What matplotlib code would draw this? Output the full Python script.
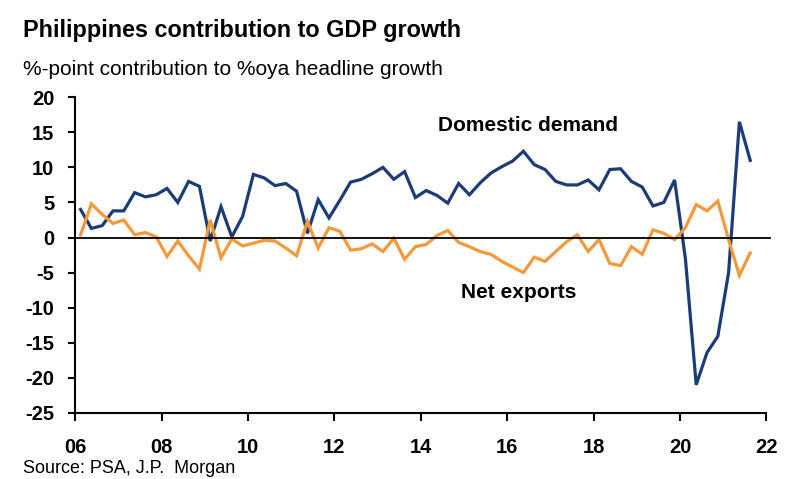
import matplotlib
matplotlib.use("Agg")
import matplotlib.pyplot as plt
from matplotlib import font_manager
import numpy as np
import pandas as pd

plt.rcParams['font.family'] = ['Liberation Sans', 'DejaVu Sans']
plt.rcParams['axes.unicode_minus'] = False

# Quarterly contributions, 2006Q1 - 2021Q3
quarters = pd.period_range('2006Q1', '2021Q3', freq='Q')

domestic_demand = [4.0, 1.3, 1.7, 3.8, 3.8, 6.4, 5.8, 6.1, 7.0, 5.0, 8.0, 7.3,
                   -0.5, 4.4, 0.1, 3.0, 9.0, 8.5, 7.4, 7.7, 6.6, 0.6, 5.4, 2.8,
                   5.3, 7.9, 8.3, 9.1, 10.0, 8.3, 9.4, 5.7, 6.7, 6.0, 4.9, 7.7,
                   6.1, 7.8, 9.2, 10.1, 10.9, 12.3, 10.4, 9.7, 8.0, 7.5, 7.5, 8.2,
                   6.8, 9.7, 9.8, 8.0, 7.2, 4.5, 5.0, 8.2, -3.0, -21.0, -16.4, -14.1,
                   -5.0, 16.5, 11.0]

net_exports = [0.4, 4.8, 3.3, 2.0, 2.5, 0.4, 0.7, 0.1, -2.7, -0.5, -2.6, -4.5,
               2.5, -2.9, -0.2, -1.2, -0.8, -0.4, -0.5, -1.5, -2.6, 2.3, -1.5, 1.4,
               0.9, -1.8, -1.6, -0.9, -2.0, -0.1, -3.1, -1.3, -1.0, 0.3, 1.0, -0.7,
               -1.3, -2.0, -2.4, -3.4, -4.2, -5.0, -2.8, -3.4, -2.0, -0.6, 0.4, -2.0,
               -0.3, -3.7, -4.0, -1.3, -2.4, 1.1, 0.6, -0.3, 1.4, 4.7, 3.8, 5.2,
               -0.3, -5.4, -2.2]

x_ticks = list(range(2006, 2023, 2))
x_labels = [f"{y % 100:02d}" for y in x_ticks]
y_ticks = list(range(-25, 21, 5))

# mid-quarter positions in fractional years
x = np.array([q.year + (q.quarter - 1) / 4 + 0.125 for q in quarters])

# title block uses a condensed face when one is around
installed = {f.name for f in font_manager.fontManager.ttflist}
if 'Liberation Sans Narrow' in installed:
    head_font = ['Liberation Sans Narrow', 'DejaVu Sans']
    title_size, sub_size = 19.5, 17.5
else:
    head_font = ['Liberation Sans', 'DejaVu Sans']
    title_size, sub_size = 16.8, 15.0

fig = plt.figure(figsize=(8, 4.79), dpi=100)
ax = fig.add_axes([0.094, 0.138, 0.864, 0.659])

ax.plot(x, domestic_demand, color='#1B3C78', lw=2.3, solid_joinstyle='miter')
ax.plot(x, net_exports, color='#F5993A', lw=2.3, solid_joinstyle='miter')
ax.axhline(0, color='black', lw=1.3, xmax=1.005, clip_on=False, zorder=3)

ax.set_xlim(2006, 2022)
ax.set_ylim(-25, 20)
ax.set_xticks(x_ticks)
ax.set_xticklabels(x_labels)
ax.set_yticks(y_ticks)

for s in ['top', 'right']:
    ax.spines[s].set_visible(False)
for s in ['left', 'bottom']:
    ax.spines[s].set_linewidth(1.5)

ax.tick_params(axis='y', direction='out', length=5, width=1.5, pad=10,
               labelsize=14.5)
ax.tick_params(axis='x', direction='out', length=6, width=1.5, pad=12,
               labelsize=14.5)
for lab in ax.get_xticklabels() + ax.get_yticklabels():
    lab.set_fontweight('bold')

ax.text(2016.49, 16.0, 'Domestic demand', fontsize=15, fontweight='bold',
        ha='center', va='center')
ax.text(2016.27, -7.8, 'Net exports', fontsize=15, fontweight='bold',
        ha='center', va='center')

fig.text(0.029, 0.9221, 'Philippines contribution to GDP growth',
         fontsize=title_size, fontweight='bold', family=head_font,
         ha='left', va='baseline')
fig.text(0.029, 0.8434, '%-point contribution to %oya headline growth',
         fontsize=sub_size, family=head_font, ha='left', va='baseline')
fig.text(0.029, 0.0125, 'Source: PSA, J.P.  Morgan', fontsize=13,
         ha='left', va='baseline')

fig.savefig('out.png', dpi=100)
